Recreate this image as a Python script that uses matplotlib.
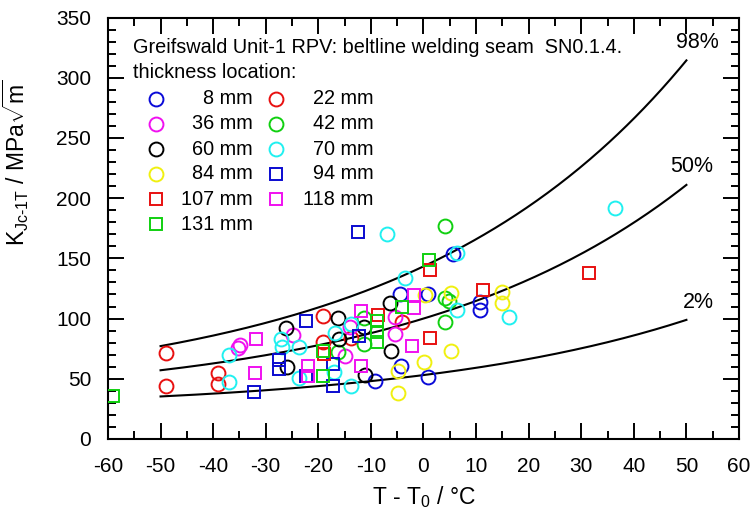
import numpy as np
import matplotlib
matplotlib.use("Agg")
import matplotlib.pyplot as plt
from matplotlib.ticker import MultipleLocator

plt.rcParams['font.family'] = ['Liberation Sans', 'DejaVu Sans']
plt.rcParams['mathtext.fontset'] = 'custom'
plt.rcParams['mathtext.rm'] = 'Liberation Sans'
plt.rcParams['mathtext.it'] = 'Liberation Sans'
plt.rcParams['mathtext.default'] = 'regular'
plt.rcParams['axes.unicode_minus'] = False

# ---- measured fracture toughness data, grouped by thickness location ----
t_8mm = [-4.5, 0.9, 5.7, 10.7, 10.7, -9.2, -4.3, 0.8]
k_8mm = [120.6, 120.6, 153.3, 113.6, 107.3, 47.8, 60.8, 51.1]

t_22mm = [-49.0, -49.0, -39.0, -39.0, -19.2, -19.1, -13.8, -4.0]
k_22mm = [71.0, 44.0, 54.5, 45.5, 102.5, 80.3, 84.0, 97.0]

t_36mm = [-35.2, -34.8, -24.9, -14.0, -15.0, -5.4, -5.5]
k_36mm = [75.5, 78.0, 86.0, 92.8, 69.2, 101.0, 87.0]

t_42mm = [4.1, 4.1, 4.8, 4.1, -11.3, -11.3, -16.2]
k_42mm = [177.0, 117.2, 115.0, 97.0, 100.6, 78.9, 71.9]

t_60mm = [-26.1, -16.2, -6.4, -11.3, -16.1, -6.1, -26.0, -11.2]
k_60mm = [91.8, 100.6, 113.0, 92.8, 83.1, 73.3, 59.4, 53.0]

t_70mm = [-37.0, -37.0, -27.1, -27.0, -23.7, -23.6, -13.7, -16.8, -17.0,
          -13.7, -7.0, -3.6, 6.4, 6.4, 16.3, 36.4]
k_70mm = [70.0, 47.5, 83.0, 76.5, 76.0, 51.0, 95.6, 87.8, 55.3,
          44.2, 170.6, 133.6, 154.4, 107.5, 101.7, 192.2]

t_84mm = [0.3, 5.2, 15.0, 15.0, 5.2, 0.1, -4.8, -4.8]
k_84mm = [119.5, 121.1, 121.9, 112.8, 73.3, 63.8, 56.7, 38.6]

t_94mm = [-12.4, -22.4, -27.4, -27.4, -22.4, -32.3, -17.2, -17.2, -12.3]
k_94mm = [172.0, 98.3, 66.0, 58.5, 52.5, 39.4, 62.2, 44.0, 85.8]

t_107mm = [1.2, -8.7, 1.3, 11.4, 31.4, -18.9]
k_107mm = [140.6, 103.0, 84.0, 123.9, 138.0, 70.6]

t_118mm = [-31.9, -32.0, -21.9, -21.9, -11.9, -11.9, -1.8, -1.8, -2.2]
k_118mm = [82.7, 54.4, 60.8, 52.5, 106.0, 60.2, 119.2, 108.5, 77.2]

t_131mm = [-59.0, 1.1, -4.0, -8.9, -8.9, -8.9, -19.1, -19.1]
k_131mm = [36.0, 148.3, 110.0, 98.3, 89.0, 80.3, 73.0, 52.5]

series = [
    ("8 mm",   t_8mm,   k_8mm,   'o', '#0a0ad8'),
    ("22 mm",  t_22mm,  k_22mm,  'o', '#e81010'),
    ("36 mm",  t_36mm,  k_36mm,  'o', '#f010f0'),
    ("42 mm",  t_42mm,  k_42mm,  'o', '#10d010'),
    ("60 mm",  t_60mm,  k_60mm,  'o', '#000000'),
    ("70 mm",  t_70mm,  k_70mm,  'o', '#20f0f0'),
    ("84 mm",  t_84mm,  k_84mm,  'o', '#f0f010'),
    ("94 mm",  t_94mm,  k_94mm,  's', '#0a0ad0'),
    ("107 mm", t_107mm, k_107mm, 's', '#e81010'),
    ("118 mm", t_118mm, k_118mm, 's', '#f010f0'),
    ("131 mm", t_131mm, k_131mm, 's', '#10d010'),
]

# ---- master curve and tolerance bounds ----
probabilities = [0.98, 0.50, 0.02]
curve_labels = ["98%", "50%", "2%"]


def master_curve(dt, p):
    k_med = 30.0 + 70.0 * np.exp(0.019 * dt)
    return 20.0 + (k_med - 20.0) * (np.log(1.0 / (1.0 - p)) / np.log(2.0)) ** 0.25


fig = plt.figure(figsize=(7.54, 5.15), dpi=100)
ax = fig.add_axes([0.1432, 0.1476, 0.8369, 0.8184])

dt = np.linspace(-50, 50, 300)
for p in probabilities:
    ax.plot(dt, master_curve(dt, p), color='black', lw=1.5, zorder=2)

label_pos = [(52.0, 329.0), (51.0, 226.0), (52.3, 113.0)]
for lab, (lx, ly) in zip(curve_labels, label_pos):
    ax.text(lx, ly, lab, fontsize=15.5, ha='center', va='center')

for name, t, k, m, c in series:
    ms = 10 if m == 'o' else 9
    ax.plot(t, k, linestyle='none', marker=m, ms=ms, mfc='none', mec=c,
            mew=1.4, zorder=3)

ax.set_xlim(-60, 60)
ax.set_ylim(0, 350)
ax.xaxis.set_major_locator(MultipleLocator(10))
ax.xaxis.set_minor_locator(MultipleLocator(5))
ax.yaxis.set_major_locator(MultipleLocator(50))
ax.yaxis.set_minor_locator(MultipleLocator(10))
ax.tick_params(which='both', direction='in', top=True, right=True, width=1.4)
ax.tick_params(which='major', length=11.5, labelsize=15)
ax.tick_params(axis='y', which='major', pad=12)
ax.tick_params(axis='x', which='major', pad=13)
ax.tick_params(which='minor', length=5.8)
for s in ax.spines.values():
    s.set_linewidth(1.5)

ax.set_xlabel("T - T$_0$ / °C", fontsize=16.5)
ax.xaxis.set_label_coords(0.5, -0.108)
ax.set_ylabel("K$_{Jc\u20101T}$ / MPa$\\sqrt{m}$", fontsize=16.5)
ax.yaxis.set_label_coords(-0.122, 0.656)

# ---- header and hand-placed legend ----
ax.text(0.0396, 0.9286, "Greifswald Unit-1 RPV: beltline welding seam  SN0.1.4.",
        transform=ax.transAxes, fontsize=14.3, va='center', ha='left')
ax.text(0.0396, 0.869, "thickness location:", transform=ax.transAxes,
        fontsize=14.3, va='center', ha='left')

row_y = [0.807, 0.748, 0.688, 0.629, 0.569, 0.510]
col_marker_x = [0.0761, 0.2662]
col_label_x = [0.2293, 0.4204]
for i, (name, t, k, m, c) in enumerate(series):
    row, col = divmod(i, 2)
    ms = 10 if m == 'o' else 9
    ax.plot([col_marker_x[col]], [row_y[row]], transform=ax.transAxes,
            linestyle='none', marker=m, ms=ms, mfc='none', mec=c, mew=1.4,
            clip_on=False)
    ax.text(col_label_x[col], row_y[row], name, transform=ax.transAxes,
            fontsize=14.3, ha='right', va='center')

fig.savefig("out.png", dpi=100)
